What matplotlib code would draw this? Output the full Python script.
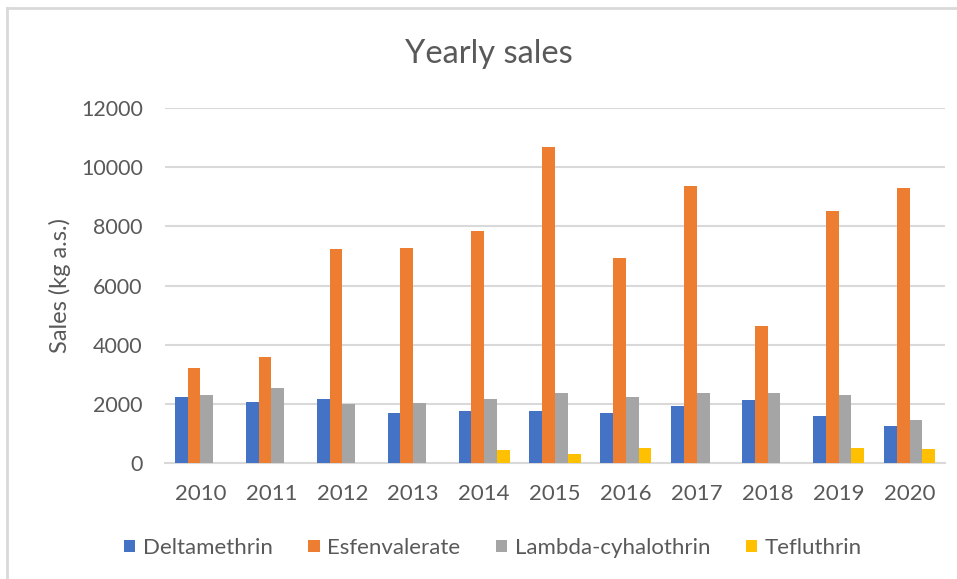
#!/usr/bin/env python

import numpy as np
import matplotlib
matplotlib.use('Agg')
import matplotlib.pyplot as plt
from matplotlib.lines import Line2D

# Data (kg a.s.)

years = ['2010', '2011', '2012', '2013', '2014', '2015',
         '2016', '2017', '2018', '2019', '2020']

deltamethrin = [2240, 2060, 2150, 1680, 1760, 1760, 1680, 1940, 2120, 1590, 1240]
esfenvalerate = [3200, 3590, 7220, 7270, 7830, 10680, 6920, 9350, 4620, 8530, 9310]
lambda_cyhalothrin = [2290, 2545, 1985, 2020, 2150, 2370, 2240, 2370, 2370, 2290, 1450]
tefluthrin = [0, 0, 0, 0, 430, 290, 505, 0, 0, 505, 460]

series = [('Deltamethrin', deltamethrin, '#4472C4'),
          ('Esfenvalerate', esfenvalerate, '#ED7D31'),
          ('Lambda-cyhalothrin', lambda_cyhalothrin, '#A5A5A5'),
          ('Tefluthrin', tefluthrin, '#FFC000')]

TEXT = '#595959'
GRID = '#D9D9D9'

plt.rcParams['font.family'] = ['Lato', 'DejaVu Sans']

fig = plt.figure(figsize=(9.57, 5.79), dpi=100)
ax = fig.add_axes([165/957, 1 - 463/579, 780/957, 355/579])

x = np.arange(len(years))
width = 0.18

for i, (name, vals, col) in enumerate(series):
    ax.bar(x + (i - 1.5) * width, vals, width, color=col, label=name, zorder=3)

ax.set_xlim(-0.5, len(years) - 0.5)
ax.set_ylim(0, 12000)
ax.set_yticks(np.arange(0, 12001, 2000))
ax.set_xticks(x)
ax.set_xticklabels(years)

ax.grid(axis='y', color=GRID, lw=1.5, zorder=0)
for s in ['top', 'right', 'left']:
    ax.spines[s].set_visible(False)
ax.spines['bottom'].set_color(GRID)
ax.spines['bottom'].set_linewidth(1.5)

ax.tick_params(axis='y', length=0, pad=16, labelsize=15.5, labelcolor=TEXT)
ax.tick_params(axis='x', length=0, pad=15, labelsize=16, labelcolor=TEXT)

ax.set_ylabel('Sales (kg a.s.)', fontsize=17, color=TEXT, labelpad=7)

fig.text(489/957, 1 - 63/579, 'Yearly sales', ha='center', va='baseline',
         fontsize=23.5, color=TEXT)

fig.legend(loc='center', bbox_to_anchor=(493/957, 1 - 548/579), ncol=4,
           frameon=False, fontsize=16, labelcolor=TEXT,
           handlelength=0.5, handleheight=0.5, handletextpad=0.35,
           columnspacing=1.6)

# chart border (only left and top edges show in the crop)
fig.add_artist(Line2D([6.5/957, 6.5/957], [0, 1 - 8/579],
                      transform=fig.transFigure, color=GRID, lw=2))
fig.add_artist(Line2D([6.5/957, 1], [1 - 8/579, 1 - 8/579],
                      transform=fig.transFigure, color=GRID, lw=2))

fig.savefig('out.png', dpi=100)
